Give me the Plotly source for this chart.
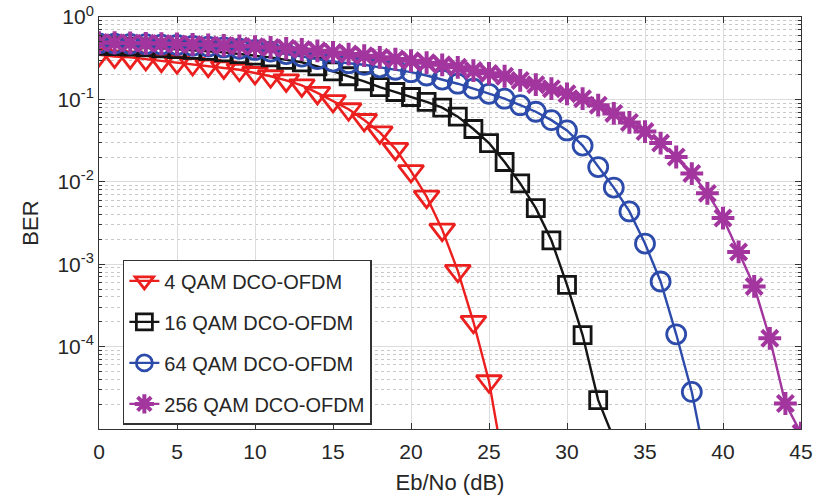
import plotly.graph_objects as go

# Eb/No (dB) sample points for each series
ebno_4 = list(range(0, 27))
ebno_16 = list(range(0, 34))
ebno_64 = list(range(0, 40))
ebno_256 = list(range(0, 46))

ber_4qam = [0.347, 0.331, 0.324, 0.309, 0.295, 0.282, 0.269, 0.257, 0.245, 0.229,
            0.209, 0.191, 0.170, 0.148, 0.120, 0.0955, 0.0759, 0.0562, 0.0398, 0.0251,
            0.0135, 0.00661, 0.00263, 0.000832, 0.000200, 3.80e-5, 3.16e-6]

ber_16qam = [0.447, 0.442, 0.437, 0.427, 0.417, 0.407, 0.398, 0.389, 0.372, 0.355,
             0.339, 0.324, 0.302, 0.282, 0.251, 0.219, 0.191, 0.166, 0.141, 0.123,
             0.107, 0.0933, 0.0794, 0.0617, 0.0437, 0.0295, 0.0174, 0.00955, 0.00479, 0.00195,
             0.000562, 0.000138, 2.24e-5, 7.6e-6]

ber_64qam = [0.479, 0.476, 0.473, 0.468, 0.462, 0.457, 0.447, 0.437, 0.427, 0.412,
             0.398, 0.380, 0.355, 0.331, 0.309, 0.288, 0.275, 0.263, 0.245, 0.229,
             0.214, 0.195, 0.174, 0.155, 0.135, 0.117, 0.102, 0.0851, 0.0708, 0.0560,
             0.0420, 0.0275, 0.0151, 0.00851, 0.00437, 0.00178, 0.000617, 0.000141, 2.82e-5, 3.16e-6]

ber_256qam = [0.490, 0.487, 0.484, 0.479, 0.476, 0.470, 0.465, 0.459, 0.452, 0.445,
              0.437, 0.427, 0.417, 0.403, 0.389, 0.372, 0.355, 0.339, 0.324, 0.309,
              0.295, 0.279, 0.263, 0.245, 0.224, 0.207, 0.191, 0.170, 0.151, 0.135,
              0.117, 0.102, 0.0851, 0.0676, 0.0525, 0.0407, 0.0295, 0.0200, 0.0126, 0.00724,
              0.00363, 0.00141, 0.000537, 0.000126, 2.04e-5, 8.9e-6]

series_names = ["4 QAM DCO-OFDM", "16 QAM DCO-OFDM", "64 QAM DCO-OFDM", "256 QAM DCO-OFDM"]

x_ticks = [0, 5, 10, 15, 20, 25, 30, 35, 40, 45]
y_ticks = [1e-4, 1e-3, 1e-2, 1e-1, 1]
y_ticktext = ["10<sup>-4</sup>", "10<sup>-3</sup>", "10<sup>-2</sup>", "10<sup>-1</sup>", "10<sup>0</sup>"]

FONT = "Liberation Sans, Arial, sans-serif"

styles = [
    dict(color="#EC1F1F", symbol="triangle-down-open", size=22),
    dict(color="#151515", symbol="square-open", size=17),
    dict(color="#2C4BAA", symbol="circle-open", size=19),
    dict(color="#A2359E", symbol="asterisk-open", size=19),
]

fig = go.Figure()
for xs, ys, name, st in zip([ebno_4, ebno_16, ebno_64, ebno_256],
                            [ber_4qam, ber_16qam, ber_64qam, ber_256qam],
                            series_names, styles):
    lw = 4 if st["symbol"] == "asterisk-open" else 2.8
    fig.add_trace(go.Scatter(
        x=xs, y=ys, name=name, mode="lines+markers", legendgroup=name,
        line=dict(color=st["color"], width=2.4),
        marker=dict(symbol=st["symbol"], size=st["size"], color=st["color"],
                    line=dict(color=st["color"], width=lw)),
    ))

minor_vals = [m * 10.0 ** k for k in range(-5, 0) for m in range(2, 10)]

fig.update_layout(
    width=817, height=495,
    margin=dict(l=99, r=16, t=17, b=66, autoexpand=False),
    paper_bgcolor="white", plot_bgcolor="white",
    font=dict(family=FONT, size=21, color="#262626"),
    showlegend=True,
    legend=dict(
        x=0.034, y=0.01, xanchor="left", yanchor="bottom",
        bgcolor="white", bordercolor="#333333", borderwidth=1.5,
        font=dict(family=FONT, size=20, color="#262626"),
        traceorder="grouped", tracegroupgap=12,
    ),
    xaxis=dict(
        range=[0, 45], tickmode="array", tickvals=x_ticks,
        ticks="inside", ticklen=6, tickcolor="#333333",
        showline=True, linecolor="#333333", linewidth=1, mirror="allticks",
        showgrid=True, gridcolor="#DCDCDC", gridwidth=1,
        zeroline=False, automargin=False, ticklabelstandoff=4,
        title=dict(text="Eb/No (dB)", font=dict(family=FONT, size=22), standoff=13),
        tickfont=dict(family=FONT, size=21),
    ),
    yaxis=dict(
        type="log", range=[-5, 0], tickmode="array", tickvals=y_ticks, ticktext=y_ticktext,
        ticks="inside", ticklen=6, tickcolor="#333333",
        showline=True, linecolor="#333333", linewidth=1, mirror="allticks",
        showgrid=True, gridcolor="#DCDCDC", gridwidth=1,
        zeroline=False, automargin=False,
        minor=dict(tickmode="array", tickvals=minor_vals, ticks="inside", ticklen=3,
                   tickcolor="#333333", showgrid=True, gridcolor="#C8C8C8", griddash="dot", gridwidth=1),
        title=dict(text="BER", font=dict(family=FONT, size=22), standoff=12),
        tickfont=dict(family=FONT, size=21),
    ),
)

fig.write_html("out.html")
